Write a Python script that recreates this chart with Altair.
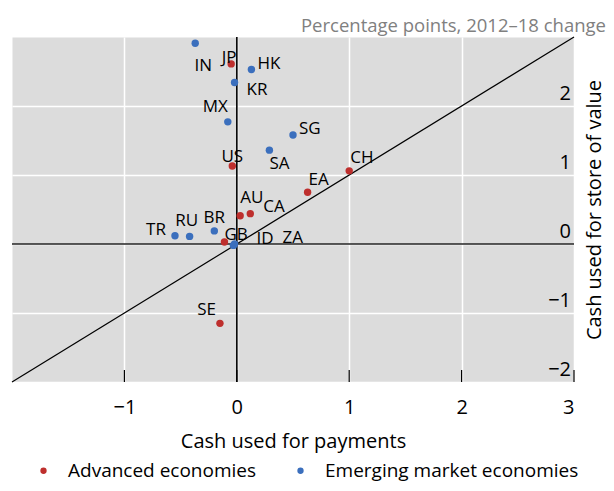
import altair as alt
import pandas as pd

# ---------------- data ----------------
COUNTRIES = ["SE", "GB", "US", "JP", "CH", "EA", "AU", "CA",
             "IN", "HK", "KR", "MX", "SG", "SA", "BR", "RU", "TR", "ID", "ZA"]
GROUP = ["AE", "AE", "AE", "AE", "AE", "AE", "AE", "AE",
         "EM", "EM", "EM", "EM", "EM", "EM", "EM", "EM", "EM", "EM", "EM"]
PAYMENTS = [-0.15, -0.11, -0.04, -0.05, 1.00, 0.63, 0.03, 0.12,
            -0.37, 0.13, -0.02, -0.08, 0.50, 0.29, -0.20, -0.42, -0.55, -0.03, -0.02]
STORE = [-1.15, 0.03, 1.13, 2.61, 1.06, 0.75, 0.41, 0.44,
         2.91, 2.53, 2.34, 1.77, 1.58, 1.36, 0.19, 0.11, 0.12, -0.02, 0.00]

GROUP_NAMES = {"AE": "Advanced economies", "EM": "Emerging market economies"}
X_TICKS = [-1, 0, 1, 2, 3]
Y_TICKS = [-2, -1, 0, 1, 2]
DOMAIN = [-2, 3]
SUBTITLE = "Percentage points, 2012–18 change"
X_TITLE = "Cash used for payments"
Y_TITLE = "Cash used for store of value"

# label placement relative to each dot (layout only, pixels)
LABEL_DX = [-4, 0, 0, -2, 1, 1, 0, 13,
            8, 6, 12, 0, 6, 0, 0, -3, -9, 23, 48]
LABEL_DY = [-13, -7, -9, -6, -13, -12, -18, -7,
            23, -5, 7, -15, -6, 14, -13, -15, -6, -6, -6]
LABEL_ALIGN = ["right", "left", "center", "center", "left", "left", "left", "left",
               "center", "left", "left", "right", "left", "left", "center", "center",
               "right", "left", "left"]

RED = "#BE2F2D"
BLUE = "#3B6FBD"
FONT = "Open Sans"
W, H = 562, 345

df = pd.DataFrame({
    "country": COUNTRIES,
    "group": [GROUP_NAMES[g] for g in GROUP],
    "payments": PAYMENTS,
    "store": STORE,
})

xs = alt.Scale(domain=DOMAIN, nice=False, zero=False)
ys = alt.Scale(domain=DOMAIN, nice=False, zero=False)

x_axis = alt.Axis(values=X_TICKS, grid=True, gridColor="white", gridWidth=1.5,
                  domain=False, ticks=False, format="d",
                  labelFontSize=20, labelColor="black", labelPadding=15, labelFont=FONT,
                  title=X_TITLE, titleFontSize=20, titleFontWeight="normal",
                  titleColor="black", titlePadding=14, titleFont=FONT)
y_axis = alt.Axis(orient="right", values=Y_TICKS, grid=True, gridColor="white", gridWidth=1.5,
                  domain=False, ticks=False, labels=False,
                  title=Y_TITLE, titleFontSize=20, titleFontWeight="normal",
                  titleColor="black", titleAngle=270, titlePadding=30, titleFont=FONT)

color = alt.Color("group:N",
                  scale=alt.Scale(domain=list(GROUP_NAMES.values()), range=[RED, BLUE]),
                  legend=alt.Legend(orient="none", direction="horizontal", title=None,
                                    legendX=22, legendY=424, symbolType="circle",
                                    symbolSize=40, symbolStrokeWidth=0, symbolOpacity=1,
                                    labelFontSize=19, labelFont=FONT, labelColor="black",
                                    labelLimit=500, labelOffset=15, columnPadding=34))

# diagonal y = x across the whole domain
diag_df = pd.DataFrame({"payments": DOMAIN, "store": DOMAIN})
diag = alt.Chart(diag_df).mark_line(color="black", strokeWidth=1.2).encode(
    x=alt.X("payments:Q", scale=xs, axis=x_axis),
    y=alt.Y("store:Q", scale=ys, axis=y_axis),
)

vzero = alt.Chart(diag_df).mark_rule(color="black", strokeWidth=1.2).encode(
    x=alt.datum(0, scale=xs))
hzero = alt.Chart(diag_df).mark_rule(color="#222", strokeWidth=1.2).encode(
    y=alt.datum(0, scale=ys))

tick_df = pd.DataFrame({"payments": X_TICKS})
ticks = alt.Chart(tick_df).mark_rule(color="black", strokeWidth=1.2).encode(
    x=alt.X("payments:Q", scale=xs),
    y=alt.value(H - 12), y2=alt.value(H))

ylab_df = pd.DataFrame({"store": Y_TICKS})
ylabels = alt.Chart(ylab_df).mark_text(
    align="right", baseline="bottom", dx=-3, dy=-2,
    fontSize=20, font=FONT, color="black").encode(
    x=alt.value(W),
    y=alt.Y("store:Q", scale=ys),
    text=alt.Text("store:Q", format="d"))

pts_ae = alt.Chart(df).transform_filter(alt.datum.group == GROUP_NAMES["AE"]).mark_circle(
    size=55, opacity=1).encode(
    x=alt.X("payments:Q", scale=xs), y=alt.Y("store:Q", scale=ys), color=color)
pts_em = alt.Chart(df).transform_filter(alt.datum.group == GROUP_NAMES["EM"]).mark_circle(
    size=55, opacity=1).encode(
    x=alt.X("payments:Q", scale=xs), y=alt.Y("store:Q", scale=ys), color=color)

labels = []
for i, c in enumerate(COUNTRIES):
    labels.append(
        alt.Chart(df).transform_filter(alt.datum.country == c).mark_text(
            align=LABEL_ALIGN[i], baseline="middle", dx=LABEL_DX[i], dy=LABEL_DY[i],
            fontSize=17, font=FONT, color="black").encode(
            x=alt.X("payments:Q", scale=xs), y=alt.Y("store:Q", scale=ys),
            text="country:N"))

sub_df = pd.DataFrame({"t": [SUBTITLE]})
subtitle = alt.Chart(sub_df).mark_text(
    align="right", baseline="middle", fontSize=18.5, font=FONT, color="#808080").encode(
    x=alt.value(W + 32), y=alt.value(-11), text="t:N")

chart = alt.layer(diag, vzero, hzero, ticks, ylabels, pts_ae, pts_em, *labels, subtitle).properties(
    width=W, height=H,
    autosize=alt.AutoSizeParams(type="none"),
    padding={"left": 4, "top": 29, "right": 32, "bottom": 101},
).configure(font=FONT).configure_view(fill="#DCDCDC", strokeOpacity=0)

chart.save("out.html", embed_options={"renderer": "svg", "actions": False})
